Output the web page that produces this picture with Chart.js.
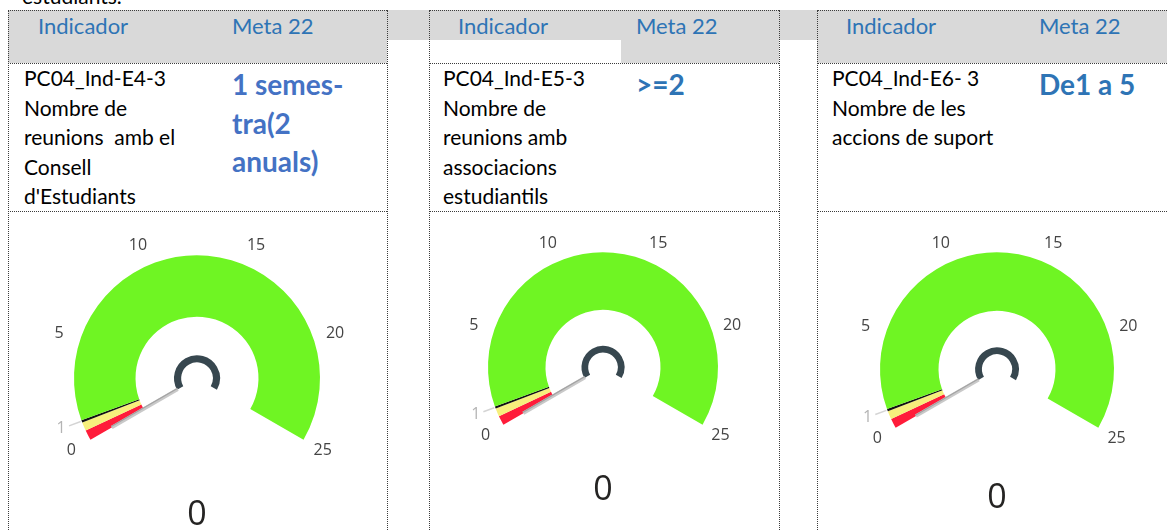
<!DOCTYPE html>
<html>
<head>
<meta charset="utf-8">
<script src="https://cdn.jsdelivr.net/npm/chart.js@4.4.1/dist/chart.umd.min.js"></script>
<style>
  body { margin: 0; width: 1167px; height: 531px; overflow: hidden; background: #fff; position: relative; font-family: Lato, 'Open Sans', sans-serif; }
  .abs { position: absolute; white-space: pre; }
  .grey { background: #d9d9d9; }
  .vl { position: absolute; width: 0; border-left: 1px dotted #3c3c3c; }
  .hl { position: absolute; height: 0; border-top: 1px dotted #3c3c3c; }
  .head { font-size: 22px; line-height: 25px; color: #2e74b5; top: 13px; }
  .body { font-size: 21px; line-height: 29.5px; color: #000; top: 63px; }
  .meta { font-size: 28px; line-height: 38.5px; font-weight: 700; top: 65px; }
  canvas { position: absolute; }
</style>
</head>
<body>
  <div class="abs" style="left:22px; top:-16px; font-size:21px; line-height:24px;">estudiants.</div>

  <!-- Header band -->
  <div class="abs grey" style="left:8px; top:10px; width:1159px; height:30px;"></div>
  <div class="abs grey" style="left:8px; top:10px; width:379px; height:53px;"></div>
  <div class="abs grey" style="left:621px; top:40px; width:158px; height:23px;"></div>
  <div class="abs grey" style="left:817px; top:10px; width:350px; height:53px;"></div>

  <!-- Panel borders -->
  <div class="vl" style="left:8px; top:10px; height:530px;"></div>
  <div class="vl" style="left:387px; top:10px; height:530px;"></div>
  <div class="vl" style="left:429px; top:10px; height:530px;"></div>
  <div class="vl" style="left:779px; top:10px; height:530px;"></div>
  <div class="vl" style="left:817px; top:10px; height:530px;"></div>
  <div class="hl" style="left:8px; top:10px; width:379px;"></div>
  <div class="hl" style="left:8px; top:63px; width:379px;"></div>
  <div class="hl" style="left:8px; top:211px; width:379px;"></div>
  <div class="hl" style="left:429px; top:10px; width:350px;"></div>
  <div class="hl" style="left:429px; top:63px; width:350px;"></div>
  <div class="hl" style="left:429px; top:211px; width:350px;"></div>
  <div class="hl" style="left:817px; top:10px; width:350px;"></div>
  <div class="hl" style="left:817px; top:63px; width:350px;"></div>
  <div class="hl" style="left:817px; top:211px; width:350px;"></div>

  <!-- Panel 1 -->
  <div class="abs head" style="left:38px;">Indicador</div>
  <div class="abs head" style="left:232px;">Meta 22</div>
  <div class="abs body" style="left:24px;">PC04_Ind-E4-3
Nombre de
reunions  amb el
Consell
d'Estudiants</div>
  <div class="abs meta" style="left:232px; color:#4472c4;">1 semes-
tra(2
anuals)</div>

  <!-- Panel 2 -->
  <div class="abs head" style="left:458px;">Indicador</div>
  <div class="abs head" style="left:636px;">Meta 22</div>
  <div class="abs body" style="left:443px;">PC04_Ind-E5-3
Nombre de
reunions amb
associacions
estudiantils</div>
  <div class="abs meta" style="left:636px; color:#2e74b5;">&gt;=2</div>

  <!-- Panel 3 -->
  <div class="abs head" style="left:846px;">Indicador</div>
  <div class="abs head" style="left:1039px;">Meta 22</div>
  <div class="abs body" style="left:832px;">PC04_Ind-E6- 3
Nombre de les
accions de suport</div>
  <div class="abs meta" style="left:1039px; color:#2e74b5;">De1 a 5</div>

  <canvas id="g1"></canvas>
  <canvas id="g2"></canvas>
  <canvas id="g3"></canvas>

<script>
// Gauge scale
const tickValues = [0, 1, 5, 10, 15, 20, 25];
const faintTicks = [1];
// Colour bands: upper limit of each band
const bandEnds = [0.5, 0.93, 1.05, 25];
const bandColors = ['#ff1c3a', '#f6ef7c', '#111111', '#6ff523'];
// Current reading of each indicator
const gaugeValues = [0, 0, 0];

const gauges = [
  { id: 'g1', cx: 197, cy: 378, r: 123, valueDy: 137 },
  { id: 'g2', cx: 603, cy: 367, r: 115, valueDy: 123 },
  { id: 'g3', cx: 997, cy: 369, r: 117, valueDy: 129 }
];

const bandSizes = bandEnds.map((end, i) => end - (i === 0 ? 0 : bandEnds[i - 1]));

const gaugeDecor = {
  id: 'gaugeDecor',
  afterDatasetsDraw(chart, args, opts) {
    const ctx = chart.ctx;
    const arcs = chart.getDatasetMeta(0).data;
    const first = arcs[0];
    const last = arcs[arcs.length - 1];
    const x = first.x, y = first.y, R = first.outerRadius;
    const a0 = first.startAngle, a1 = last.endAngle;
    const max = bandEnds[bandEnds.length - 1];
    const ang = (v) => a0 + (v / max) * (a1 - a0);

    ctx.save();
    // tick labels
    ctx.font = '16px "Open Sans"';
    ctx.textAlign = 'center';
    ctx.textBaseline = 'middle';
    tickValues.forEach((v) => {
      const a = ang(v);
      const faint = faintTicks.includes(v);
      if (faint) {
        ctx.beginPath();
        ctx.moveTo(x + Math.cos(a) * (R + 1), y + Math.sin(a) * (R + 1));
        ctx.lineTo(x + Math.cos(a) * R * 1.11, y + Math.sin(a) * R * 1.11);
        ctx.strokeStyle = '#d4d4d4';
        ctx.lineWidth = 1.5;
        ctx.stroke();
      }
      ctx.fillStyle = faint ? '#b4b4b4' : '#444444';
      const lr = R * 1.18;
      ctx.fillText(String(v), x + Math.cos(a) * lr, y + Math.sin(a) * lr);
    });

    // hub arc
    ctx.beginPath();
    ctx.arc(x, y, R * 0.158, a0, a1);
    ctx.lineWidth = R * 0.058;
    ctx.strokeStyle = '#37474f';
    ctx.stroke();

    // needle
    const an = ang(opts.value);
    const r1 = R * 0.18, r2 = R * 0.8;
    ctx.beginPath();
    ctx.moveTo(x + Math.cos(an) * r1, y + Math.sin(an) * r1);
    ctx.lineTo(x + Math.cos(an) * r2, y + Math.sin(an) * r2);
    ctx.strokeStyle = '#c9c9c9';
    ctx.lineWidth = 3.5;
    ctx.stroke();
    const px = Math.sin(an), py = -Math.cos(an);
    ctx.beginPath();
    ctx.moveTo(x + Math.cos(an) * r1 - px, y + Math.sin(an) * r1 - py);
    ctx.lineTo(x + Math.cos(an) * r2 - px, y + Math.sin(an) * r2 - py);
    ctx.strokeStyle = '#a3a3a3';
    ctx.lineWidth = 1.2;
    ctx.stroke();

    // value
    ctx.font = '34px "Open Sans"';
    ctx.fillStyle = '#252423';
    ctx.fillText(String(opts.value), x, y + opts.valueDy);
    ctx.restore();
  }
};

gauges.forEach((g, i) => {
  const pad = 50, padBottom = 170;
  const canvas = document.getElementById(g.id);
  canvas.width = 2 * g.r + 2 * pad;
  canvas.height = Math.round(1.5 * g.r) + pad + padBottom;
  canvas.style.left = (g.cx - g.r - pad) + 'px';
  canvas.style.top = (g.cy - g.r - pad) + 'px';

  new Chart(canvas, {
    type: 'doughnut',
    data: {
      labels: ['red', 'yellow', 'target', 'green'],
      datasets: [{
        data: bandSizes,
        backgroundColor: bandColors,
        borderWidth: 0
      }]
    },
    options: {
      responsive: false,
      animation: false,
      rotation: -120,
      circumference: 240,
      cutout: '50%',
      layout: { padding: { left: pad, right: pad, top: pad, bottom: padBottom } },
      events: [],
      plugins: {
        legend: { display: false },
        tooltip: { enabled: false },
        gaugeDecor: { value: gaugeValues[i], valueDy: g.valueDy }
      }
    },
    plugins: [gaugeDecor]
  });
});
</script>
</body>
</html>
